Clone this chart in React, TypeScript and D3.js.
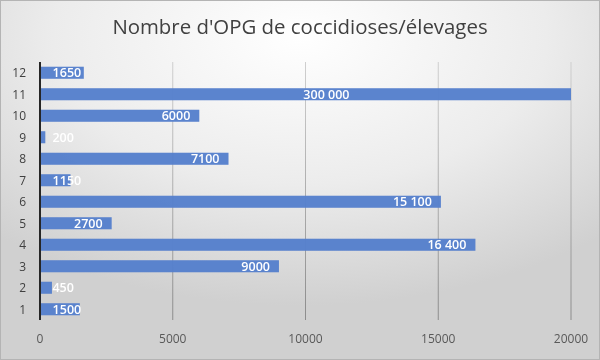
import * as d3 from "d3";
import React from "react";

const categories = ["1", "2", "3", "4", "5", "6", "7", "8", "9", "10", "11", "12"];
const values = [1500, 450, 9000, 16400, 2700, 15100, 1150, 7100, 200, 6000, 300000, 1650];
const labels = ["1500", "450", "9000", "16 400", "2700", "15 100", "1150", "7100", "200", "6000", "300 000", "1650"];
const xTicks = [0, 5000, 10000, 15000, 20000];

const WIDTH = 600;
const HEIGHT = 360;
const MARGIN = { top: 62, right: 29, bottom: 40, left: 40 };
const FONT = "'Open Sans', 'Noto Sans', sans-serif";
const BAR = "#5680cc";

export default function App() {
  const x = d3
    .scaleLinear()
    .domain([0, 20000])
    .range([MARGIN.left, WIDTH - MARGIN.right]);

  const y = d3
    .scaleBand<string>()
    .domain([...categories].reverse())
    .range([MARGIN.top, HEIGHT - MARGIN.bottom])
    .paddingInner(0.44)
    .paddingOuter(0.22);

  const bottom = HEIGHT - MARGIN.bottom;
  const charW = 7.3;

  const bars = categories.map((c, i) => {
    const v = Math.min(values[i], 20000);
    const end = x(v);
    const clipped = values[i] > 20000;
    const textW = labels[i].length * charW;
    // inside-end labels, pushed right when the bar is too short
    let lx = end - 9;
    if (lx - textW < 52) lx = 52 + textW;
    if (clipped) lx = (x(0) + x(20000)) / 2 + 44;
    return (
      <g key={c}>
        <rect
          x={x(0)}
          y={y(c)}
          width={end - x(0)}
          height={y.bandwidth()}
          fill={BAR}
          fillOpacity={0.97}
        />
        <text
          x={lx}
          y={y(c)! + y.bandwidth() / 2}
          dy="0.36em"
          textAnchor="end"
          fill="white"
          fontSize={12.5}
          fontWeight={600}
          fontFamily={FONT}
        >
          {labels[i]}
        </text>
      </g>
    );
  });

  return (
    <svg
      width={WIDTH}
      height={HEIGHT}
      style={{ position: "fixed", left: 0, top: 0 }}
    >
      <defs>
        <radialGradient id="bg" cx="0.5" cy="0.1" r="0.75">
          <stop offset="0" stopColor="#ffffff" />
          <stop offset="0.55" stopColor="#ececec" />
          <stop offset="1" stopColor="#d0d0d0" />
        </radialGradient>
        <linearGradient id="grid" gradientUnits="userSpaceOnUse" x1="0" y1={MARGIN.top} x2="0" y2={bottom}>
          <stop offset="0" stopColor="#cfcfcf" />
          <stop offset="1" stopColor="#8c8c8c" />
        </linearGradient>
      </defs>
      <rect x={0.5} y={0.5} width={WIDTH - 1} height={HEIGHT - 1} fill="url(#bg)" stroke="#b4b4b4" />

      <text
        x={WIDTH / 2}
        y={34}
        textAnchor="middle"
        fontSize={20.4}
        fill="#404040"
        fontFamily={FONT}
      >
        Nombre d'OPG de coccidioses/élevages
      </text>

      {xTicks.slice(1).map((t) => (
        <line
          key={t}
          x1={x(t)}
          x2={x(t)}
          y1={MARGIN.top}
          y2={bottom}
          stroke="url(#grid)"
          strokeWidth={1}
        />
      ))}

      {bars}

      <line x1={x(0)} x2={x(0)} y1={MARGIN.top} y2={bottom} stroke="#262626" strokeWidth={2} />

      {xTicks.map((t) => (
        <text
          key={t}
          x={x(t)}
          y={bottom + 19}
          dy="0.36em"
          textAnchor="middle"
          fontSize={12}
          fill="#595959"
          fontFamily={FONT}
        >
          {t}
        </text>
      ))}

      {categories.map((c) => (
        <text
          key={c}
          x={26}
          y={y(c)! + y.bandwidth() / 2}
          dy="0.36em"
          textAnchor="end"
          fontSize={12}
          fill="#404040"
          fontFamily={FONT}
        >
          {c}
        </text>
      ))}
    </svg>
  );
}
